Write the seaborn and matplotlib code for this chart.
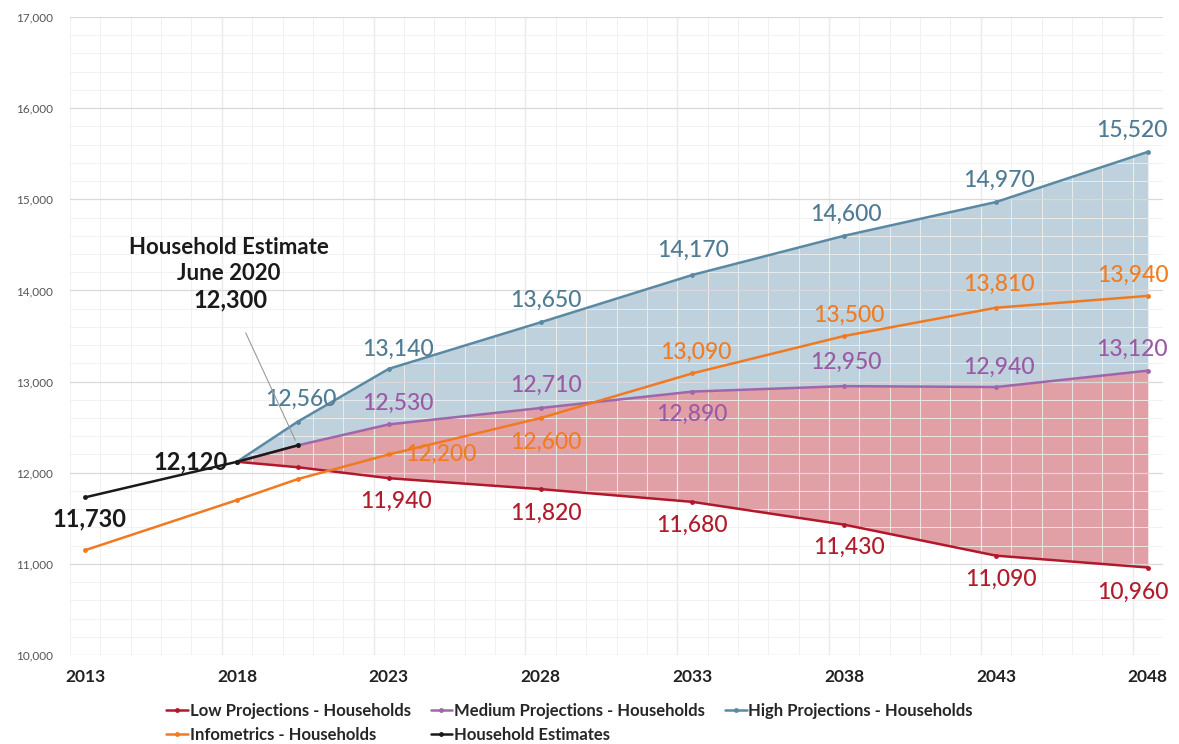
import numpy as np
import pandas as pd
import matplotlib
matplotlib.use("Agg")
import matplotlib.pyplot as plt
from matplotlib.ticker import MultipleLocator, FuncFormatter
import seaborn as sns

# --- data ---
proj_years = [2018, 2020, 2023, 2028, 2033, 2038, 2043, 2048]
low = [12120, 12060, 11940, 11820, 11680, 11430, 11090, 10960]
medium = [12120, 12300, 12530, 12710, 12890, 12950, 12940, 13120]
high = [12120, 12560, 13140, 13650, 14170, 14600, 14970, 15520]

info_years = [2013, 2018, 2020, 2023, 2028, 2033, 2038, 2043, 2048]
infometrics = [11150, 11700, 11930, 12200, 12600, 13090, 13500, 13810, 13940]

est_years = [2013, 2018, 2020]
estimates = [11730, 12120, 12300]

tick_years = [2013, 2018, 2023, 2028, 2033, 2038, 2043, 2048]

c_low = "#b2182b"
c_med = "#a066aa"
c_high = "#5a8aa3"
c_info = "#f07a22"
c_est = "#1a1a1a"
lbl_high = "#4f7b93"
lbl_med = "#9a5aa6"
lbl_low = "#b01c2c"
lbl_info = "#ef7d24"

sns.set_theme(style="white")
plt.rcParams['font.family'] = ['Lato', 'DejaVu Sans']

fig = plt.figure(figsize=(11.79, 7.44), dpi=100)
ax = fig.add_axes([70 / 1179, 1 - 655 / 744, (1163 - 70) / 1179, (655 - 17) / 744])

# fills
ax.fill_between(proj_years, medium, high, color="#bfd1dc", zorder=1, linewidth=0)
ax.fill_between(proj_years, low, medium, color="#e1a0a5", zorder=1, linewidth=0)

# grid (drawn faintly over the fills)
ax.set_xlim(2012.5, 2048.5)
ax.set_ylim(10000, 17000)
ax.xaxis.set_minor_locator(MultipleLocator(1, offset=0.5))
ax.yaxis.set_major_locator(MultipleLocator(1000))
ax.yaxis.set_minor_locator(MultipleLocator(200))
ax.grid(which="major", axis="y", color="#d9d9d9", linewidth=0.9, zorder=2)
ax.grid(which="minor", color="#efefef", linewidth=0.6, zorder=2)
ax.set_axisbelow(False)
for gx in np.arange(2017.5, 2048.5, 5):
    ax.axvline(gx, color="#d9d9d9", linewidth=0.9, zorder=2)

series = [
    ("Low Projections - Households", proj_years, low, c_low),
    ("Medium Projections - Households", proj_years, medium, c_med),
    ("High Projections - Households", proj_years, high, c_high),
    ("Infometrics - Households", info_years, infometrics, c_info),
    ("Household Estimates", est_years, estimates, c_est),
]
for name, xs, ys, col in series:
    df = pd.DataFrame({"year": xs, "value": ys})
    sns.lineplot(data=df, x="year", y="value", ax=ax, color=col, linewidth=1.8,
                 marker="o", markersize=3.5, markeredgewidth=0, label=name, zorder=4)

# data labels (offsets in pixels)
def lab(x, y, txt, color, dx, dy, size=16.5, weight="medium"):
    ax.annotate(txt, (x, y), xytext=(dx, dy), textcoords="offset pixels",
                ha="center", va="center", color=color, fontsize=size,
                fontweight=weight, zorder=6)

fmt = lambda v: f"{v:,}"

high_off = [None, (3, 22), (9, 19), (5, 22), (1, 25), (2, 21), (3, 22), (-16, 22)]
med_off = [None, None, (9, 21), (5, 23), (0, -23), (2, 24), (3, 20), (-16, 21)]
low_off = [None, None, (7, -23), (5, -24), (0, -23), (5, -23), (5, -24), (-15, -25)]
info_off = [None, None, None, (52, 0), (5, -24), (4, 21), (5, 21), (3, 23), (-15, 21)]

for i, (x, v) in enumerate(zip(proj_years, high)):
    if high_off[i]:
        lab(x, v, fmt(v), lbl_high, *high_off[i])
for i, (x, v) in enumerate(zip(proj_years, medium)):
    if med_off[i]:
        lab(x, v, fmt(v), lbl_med, *med_off[i])
for i, (x, v) in enumerate(zip(proj_years, low)):
    if low_off[i]:
        lab(x, v, fmt(v), lbl_low, *low_off[i])
for i, (x, v) in enumerate(zip(info_years, infometrics)):
    if info_off[i]:
        lab(x, v, fmt(v), lbl_info, *info_off[i])

lab(est_years[0], estimates[0], fmt(estimates[0]), c_est, 4, -22, size=17, weight="bold")
lab(est_years[1], estimates[1], fmt(estimates[1]), c_est, -46, 0, size=17, weight="bold")

ax.annotate("Household Estimate\nJune 2020", (est_years[2], estimates[2]),
            xytext=(-69, 185), textcoords="offset pixels", ha="center", va="center",
            fontsize=16, fontweight="bold", color=c_est, linespacing=1.3, zorder=6)
ax.annotate(fmt(estimates[2]), (est_years[2], estimates[2]),
            xytext=(-67, 145), textcoords="offset pixels", ha="center", va="center",
            fontsize=17, fontweight="bold", color=c_est, zorder=6,
            arrowprops=dict(arrowstyle="-", color="#9a9a9a", lw=0.8,
                            shrinkA=14, shrinkB=4))

# axes styling
ax.set_xticks(tick_years)
ax.set_xticklabels([str(y) for y in tick_years], fontweight="bold", fontsize=12.5, color="#222222")
ax.tick_params(axis="x", length=0, pad=10)
ax.tick_params(axis="y", length=0, labelsize=8.5, labelcolor="#555555", pad=12)
ax.yaxis.set_major_formatter(FuncFormatter(lambda v, p: f"{int(v):,}"))
ax.set_xlabel("")
ax.set_ylabel("")
for s in ax.spines.values():
    s.set_visible(False)

handles, labels = ax.get_legend_handles_labels()
order = [0, 3, 1, 4, 2]
ax.legend([handles[i] for i in order], [labels[i] for i in order],
          loc="upper center", bbox_to_anchor=(0.457, -0.052), ncol=3, frameon=False,
          handlelength=1.3, handletextpad=0.1, columnspacing=1.2, labelspacing=0.45,
          prop={"weight": "bold", "size": 12})

fig.savefig("out.png", dpi=100)
